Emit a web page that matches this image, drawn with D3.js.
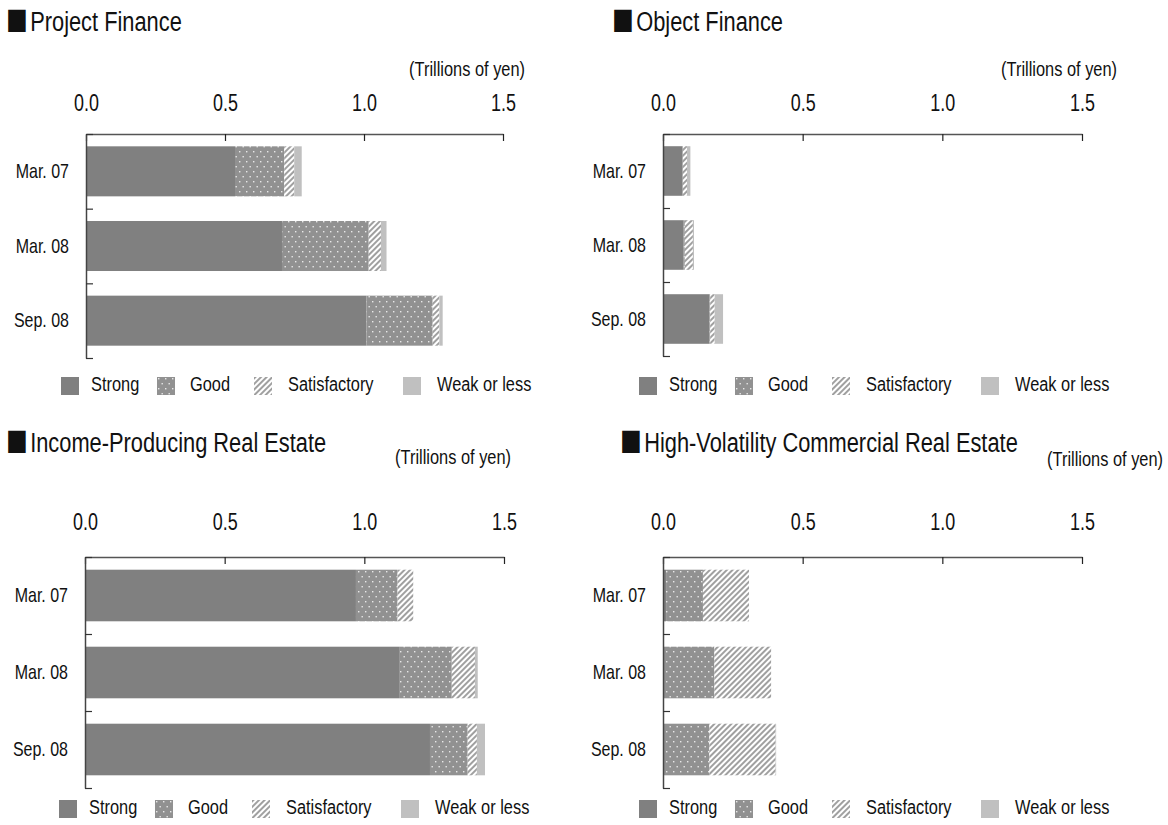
<!DOCTYPE html>
<html><head><meta charset="utf-8">
<script src="https://cdn.jsdelivr.net/npm/d3@7"></script>
<style>
body{margin:0;background:#fff}
svg{display:block}
text{font-family:'Liberation Sans',Arial,sans-serif;fill:#111}
</style>
</head><body>
<svg id="c" width="1168" height="825"></svg>
<script>
// ---- data ----
const categories = ["Mar. 07", "Mar. 08", "Sep. 08"];
const ratings = ["Strong", "Good", "Satisfactory", "Weak or less"];
const tickValues = [0, 0.5, 1.0, 1.5];
const unitLabel = "(Trillions of yen)";
const titles = ["Project Finance", "Object Finance", "Income-Producing Real Estate", "High-Volatility Commercial Real Estate"];
// rows: categories; columns: Strong, Good, Satisfactory, Weak or less
const projectFinance   = [[0.536, 0.177, 0.036, 0.027], [0.705, 0.312, 0.044, 0.020], [1.009, 0.238, 0.024, 0.012]];
const objectFinance    = [[0.068, 0.003, 0.015, 0.012], [0.074, 0.004, 0.029, 0.004], [0.166, 0.003, 0.016, 0.030]];
const incomeRealEstate = [[0.970, 0.149, 0.056, 0.000], [1.127, 0.186, 0.083, 0.010], [1.235, 0.135, 0.033, 0.029]];
const hvcre            = [[0.011, 0.132, 0.165, 0.000], [0.003, 0.181, 0.203, 0.000], [0.003, 0.163, 0.237, 0.002]];

// ---- layout ----
const panels = [
  {title: titles[0], data: projectFinance, x0: 86, x1: 503, top: 134, bottom: 358,
   titleX: 6, titleY: 31, unitRight: 525, unitY: 76, tickY: 111, legendY: 377, legendX: 61},
  {title: titles[1], data: objectFinance, x0: 663, x1: 1082, top: 134, bottom: 356,
   titleX: 612, titleY: 31, unitRight: 1117, unitY: 76, tickY: 111, legendY: 377, legendX: 639},
  {title: titles[2], data: incomeRealEstate, x0: 85, x1: 504, top: 557, bottom: 788,
   titleX: 6, titleY: 452, unitRight: 511, unitY: 464, tickY: 530, legendY: 800, legendX: 59},
  {title: titles[3], data: hvcre, x0: 663, x1: 1082, top: 557, bottom: 788,
   titleX: 620, titleY: 452, unitRight: 1163, unitY: 466, tickY: 530, legendY: 800, legendX: 639}
];
const legendOffsets = [0, 96, 193, 342];
const legendTextDx = [30, 33, 34, 34];
const SX = 0.78; // horizontal condensing of text (narrow face look)

function narrow(sel) {
  sel.each(function () {
    const t = d3.select(this);
    const x = +(t.attr("x") || 0);
    t.attr("x", x / SX).attr("transform", `scale(${SX},1)`);
  });
}

const svg = d3.select("#c");
const defs = svg.append("defs");
const pg = defs.append("pattern").attr("id", "pGood").attr("patternUnits", "userSpaceOnUse")
  .attr("width", 7).attr("height", 10);
pg.append("rect").attr("width", 7).attr("height", 10).attr("fill", "#919191");
pg.append("rect").attr("x", 1).attr("y", 1).attr("width", 1.4).attr("height", 1.4).attr("fill", "#e8e8e8");
pg.append("rect").attr("x", 4.5).attr("y", 6).attr("width", 1.4).attr("height", 1.4).attr("fill", "#e8e8e8");
const ps = defs.append("pattern").attr("id", "pSat").attr("patternUnits", "userSpaceOnUse")
  .attr("width", 4).attr("height", 4).attr("patternTransform", "rotate(45)");
ps.append("rect").attr("width", 4).attr("height", 4).attr("fill", "#ffffff");
ps.append("rect").attr("width", 2).attr("height", 4).attr("fill", "#a0a0a0");

const fills = ["#808080", "url(#pGood)", "url(#pSat)", "#c0c0c0"];
const stack = d3.stack().keys([0, 1, 2, 3]).value((d, k) => d[k]);

panels.forEach(p => {
  const g = svg.append("g");
  const x = d3.scaleLinear().domain([0, 1.5]).range([p.x0, p.x1]);
  const y = d3.scaleBand().domain(categories).range([p.top, p.bottom]).paddingInner(0.33).paddingOuter(0.165);
  const yb = d3.scaleLinear().domain([0, 3]).range([p.top, p.bottom]);

  // title
  const tt = g.append("text").attr("x", p.titleX).attr("y", p.titleY).attr("font-size", 28);
  tt.append("tspan").attr("font-family", "'Noto Sans CJK JP','Noto Sans CJK SC',sans-serif")
    .attr("font-size", 28).attr("dy", 1).text("■");
  tt.append("tspan").attr("dx", 3).attr("dy", -1).text(p.title);
  tt.call(narrow);
  // unit
  g.append("text").attr("x", p.unitRight).attr("y", p.unitY).attr("text-anchor", "end")
    .attr("font-size", 21).text(unitLabel).call(narrow);

  // bars
  const series = stack(p.data);
  g.selectAll("g.s").data(series).join("g").attr("class", "s")
    .attr("fill", (d, i) => fills[i])
    .selectAll("rect").data(d => d.map((v, j) => ({v, cat: categories[j]})))
    .join("rect")
    .attr("x", d => x(d.v[0]))
    .attr("width", d => Math.max(0, x(d.v[1]) - x(d.v[0])))
    .attr("y", d => y(d.cat))
    .attr("height", y.bandwidth());

  // top axis line + inward ticks
  const ta = g.append("g").attr("transform", `translate(0,${p.top})`)
    .call(d3.axisBottom(x).tickValues(tickValues).tickSize(7).tickFormat("").tickSizeOuter(0));
  ta.select(".domain").attr("stroke", "#555").attr("stroke-width", 1.5);
  ta.selectAll(".tick line").attr("stroke", "#222").attr("stroke-width", 1.2);
  // tick labels
  const tl = g.append("g").attr("transform", `translate(0,${p.tickY})`)
    .call(d3.axisTop(x).tickValues(tickValues).tickFormat(d3.format(".1f")).tickSize(0).tickPadding(0));
  tl.select(".domain").remove();
  tl.selectAll("text").attr("font-size", 23).attr("font-family", null).attr("fill", "#111").call(narrow);

  // left axis line with inward boundary ticks
  const la = g.append("g").attr("transform", `translate(${p.x0},0)`)
    .call(d3.axisRight(yb).tickValues([0, 1, 2, 3]).tickSize(7).tickFormat("").tickSizeOuter(0));
  la.select(".domain").attr("stroke", "#444").attr("stroke-width", 1.5);
  la.selectAll(".tick line").attr("stroke", "#333").attr("stroke-width", 1.2);
  // category labels
  const cl = g.append("g").attr("transform", `translate(${p.x0},0)`)
    .call(d3.axisLeft(y).tickSize(0).tickPadding(17));
  cl.select(".domain").remove();
  cl.selectAll("text").attr("font-size", 20.5).attr("font-family", null).attr("fill", "#111").call(narrow);

  // legend
  const lg = g.append("g").attr("transform", `translate(${p.legendX},${p.legendY})`);
  const items = lg.selectAll("g").data(ratings).join("g")
    .attr("transform", (d, i) => `translate(${legendOffsets[i]},0)`);
  items.append("rect").attr("width", 18).attr("height", 18).attr("fill", (d, i) => fills[i]);
  items.append("text").attr("x", (d, i) => legendTextDx[i]).attr("y", 14).attr("font-size", 21)
    .text(d => d).call(narrow);
});
</script>
</body></html>
